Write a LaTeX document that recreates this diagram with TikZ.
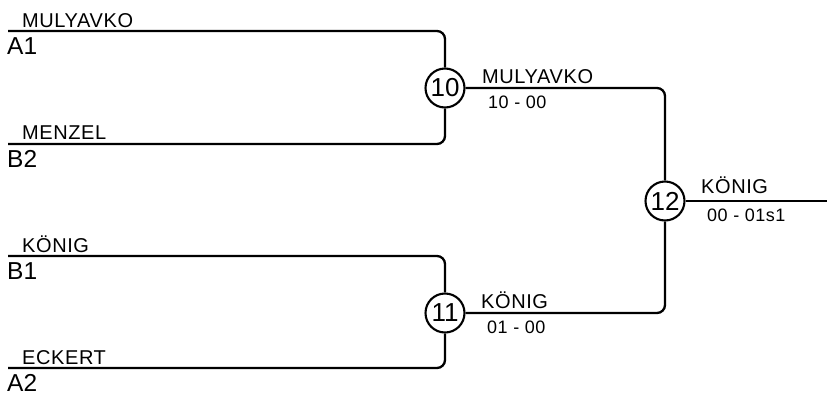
\documentclass[tikz,border=0pt]{standalone}
\usepackage{fontspec}
\setmainfont{Liberation Sans}
\newfontfamily\namefont[LetterSpace=3]{Liberation Sans}
\newfontfamily\scorefont[LetterSpace=3]{Liberation Sans}
\begin{document}
\begin{tikzpicture}[x=1pt,y=-1pt,
  bline/.style={line width=2.3pt,rounded corners=8pt},
  match/.style={circle,draw,line width=2.1pt,minimum size=39pt,inner sep=0pt,font=\fontsize{26}{26}\selectfont,fill=white},
  pname/.style={anchor=base west,inner sep=0pt,font=\namefont\fontsize{20}{21}\selectfont},
  seed/.style={anchor=base west,inner sep=0pt,font=\fontsize{24.5}{25}\selectfont},
  score/.style={anchor=base west,inner sep=0pt,font=\scorefont\fontsize{18}{19}\selectfont}]
\useasboundingbox (0,0) rectangle (827,394);
% matches
\node[match] (m10) at (445,88) {10};
\node[match] (m11) at (445,313) {11};
\node[match] (m12) at (665,201) {12};
% entry points
\coordinate (a1) at (8,31);
\coordinate (b2) at (8,144);
\coordinate (b1) at (8,256);
\coordinate (a2) at (8,368);
\coordinate (fin) at (827,201);
% connectors
\draw[bline] (a1) -| (m10.north);
\draw[bline] (b2) -| (m10.south);
\draw[bline] (b1) -| (m11.north);
\draw[bline] (a2) -| (m11.south);
\draw[bline] (m10.east) -| (m12.north);
\draw[bline] (m11.east) -| (m12.south);
\draw[bline] (m12.east) -- (fin);
% labels
\node[pname] (n1) at (22,27) {MULYAVKO};
\node[seed] (s1) at (7,54.5) {A1};
\node[pname] (n2) at (22,139) {MENZEL};
\node[seed] (s2) at (7,167.5) {B2};
\node[pname] (n3) at (22,252) {KÖNIG};
\node[seed] (s3) at (7,279.5) {B1};
\node[pname] (n4) at (22,364) {ECKERT};
\node[seed] (s4) at (7,391.5) {A2};
\node[pname] (w10) at (482,83) {MULYAVKO};
\node[score] (r10) at (488,108) {10 - 00};
\node[pname] (w11) at (481,308) {KÖNIG};
\node[score] (r11) at (487,333) {01 - 00};
\node[pname] (w12) at (701,193) {KÖNIG};
\node[score] (r12) at (707,221) {00 - 01s1};
\end{tikzpicture}
\end{document}
